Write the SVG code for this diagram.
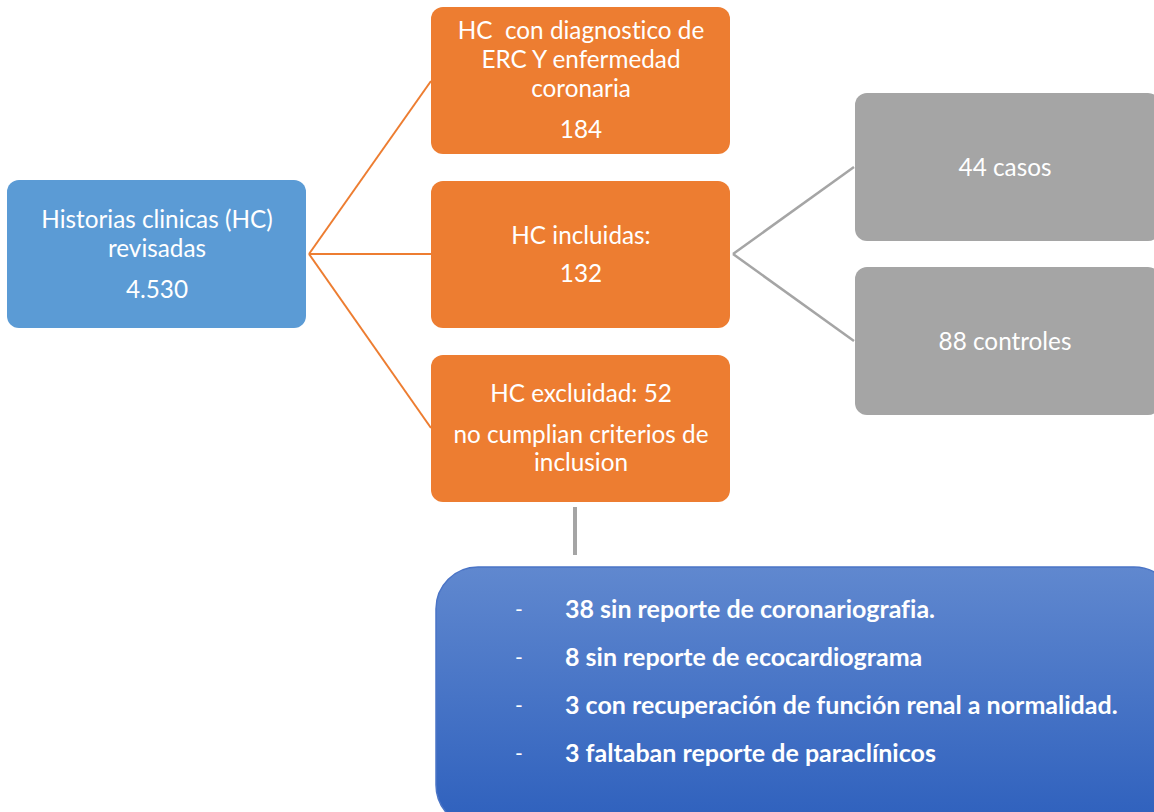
<svg xmlns="http://www.w3.org/2000/svg" width="1154" height="812" viewBox="0 0 1154 812">
<defs>
<linearGradient id="bg" x1="0" y1="0" x2="0" y2="1">
<stop offset="0" stop-color="#6088CF"/>
<stop offset="1" stop-color="#2E60BD"/>
</linearGradient>
</defs>
<style>
text{font-variant-ligatures:none}
.t{font-family:Lato,"Open Sans","Liberation Sans",sans-serif;font-size:24.3px;fill:#fff;text-anchor:middle}
.b{font-family:Lato,"Open Sans","Liberation Sans",sans-serif;font-size:25px;font-weight:bold;fill:#fff}
.d{font-family:Lato,"Liberation Sans",sans-serif;font-size:21px;fill:#fff}
.or{stroke:#ED7D31;stroke-width:2;fill:none}
.gr{stroke:#A5A5A5;stroke-width:2.5;fill:none}
</style>
<rect width="1154" height="812" fill="#fff"/>
<g id="connectors">
<line class="or" x1="309" y1="254" x2="431" y2="81"/>
<line class="or" x1="309" y1="254" x2="431" y2="254"/>
<line class="or" x1="309" y1="254" x2="431" y2="428"/>
<line class="gr" x1="733" y1="254" x2="854" y2="167"/>
<line class="gr" x1="733" y1="254" x2="854" y2="341"/>
<line x1="575" y1="507" x2="575" y2="555" stroke="#A5A5A5" stroke-width="4"/>
</g>
<g id="n-historias">
<rect x="7" y="180" width="299" height="148" rx="12" fill="#5B9BD5"/>
<text class="t" x="157" y="228">Historias clinicas (HC)</text>
<text class="t" x="157" y="257">revisadas</text>
<text class="t" x="157" y="298">4.530</text>
</g>
<g id="n-diagnostico">
<rect x="431" y="7" width="299" height="147" rx="12" fill="#ED7D31"/>
<text class="t" x="581" y="39" xml:space="preserve">HC  con diagnostico de</text>
<text class="t" x="581" y="68">ERC Y enfermedad</text>
<text class="t" x="581" y="97">coronaria</text>
<text class="t" x="581" y="138">184</text>
</g>
<g id="n-incluidas">
<rect x="431" y="181" width="299" height="147" rx="12" fill="#ED7D31"/>
<text class="t" x="581" y="244">HC incluidas:</text>
<text class="t" x="581" y="282">132</text>
</g>
<g id="n-excluidas">
<rect x="431" y="355" width="299" height="147" rx="12" fill="#ED7D31"/>
<text class="t" x="581" y="402">HC excluidad: 52</text>
<text class="t" x="581" y="443">no cumplian criterios de</text>
<text class="t" x="581" y="471">inclusion</text>
</g>
<g id="n-casos">
<rect x="855" y="93" width="305" height="148" rx="12" fill="#A5A5A5"/>
<text class="t" x="1005" y="176">44 casos</text>
</g>
<g id="n-controles">
<rect x="855" y="267" width="305" height="148" rx="12" fill="#A5A5A5"/>
<text class="t" x="1005" y="350">88 controles</text>
</g>
<g id="n-motivos">
<rect x="436" y="567" width="740" height="260" rx="42" fill="url(#bg)" stroke="#4A74C6" stroke-width="1.5"/>
<text class="d" x="515" y="617">-</text>
<text class="b" x="565" y="618">38 sin reporte de coronariografia.</text>
<text class="d" x="515" y="665">-</text>
<text class="b" x="565" y="666">8 sin reporte de ecocardiograma</text>
<text class="d" x="515" y="713">-</text>
<text class="b" x="565" y="714">3 con recuperación de función renal a normalidad.</text>
<text class="d" x="515" y="761">-</text>
<text class="b" x="565" y="762">3 faltaban reporte de paraclínicos</text>
</g>
</svg>
